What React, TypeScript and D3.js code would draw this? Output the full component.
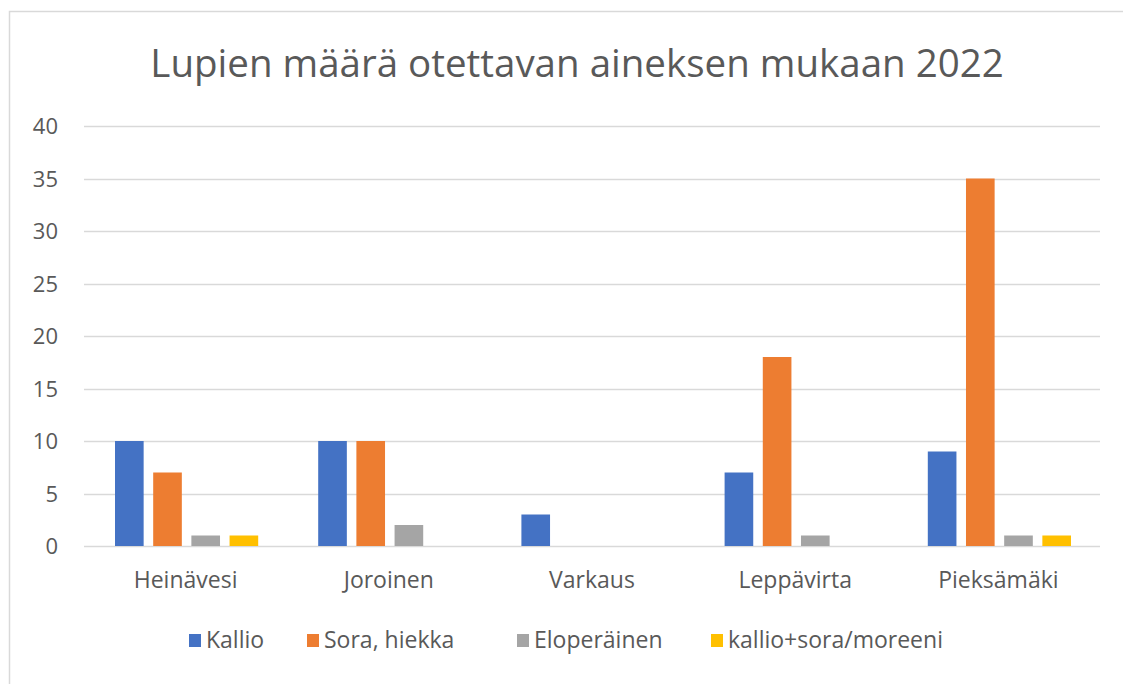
import { useEffect, useRef } from 'react';
import * as d3 from 'd3';

const categories = ['Heinävesi', 'Joroinen', 'Varkaus', 'Leppävirta', 'Pieksämäki'];
const seriesNames = ['Kallio', 'Sora, hiekka', 'Eloperäinen', 'kallio+sora/moreeni'];
const kallio = [10, 10, 3, 7, 9];
const soraHiekka = [7, 10, 0, 18, 35];
const eloperainen = [1, 2, 0, 1, 1];
const kallioSora = [1, 0, 0, 0, 1];
const yTicks = [0, 5, 10, 15, 20, 25, 30, 35, 40];
const COLORS = ['#4472C4', '#ED7D31', '#A5A5A5', '#FFC000'];

const W = 1123;
const H = 684;
const FONT = '"Open Sans", "Noto Sans", sans-serif';
const MARGIN = { top: 126, right: 23, bottom: 138, left: 84 };

export default function App() {
  const svgRef = useRef<SVGSVGElement>(null);

  useEffect(() => {
    if (!svgRef.current) return;
    const svg = d3.select(svgRef.current);
    svg.selectAll('*').remove();

    const innerWidth = W - MARGIN.left - MARGIN.right;
    const innerHeight = H - MARGIN.top - MARGIN.bottom;
    const series = [kallio, soraHiekka, eloperainen, kallioSora];

    // chart frame
    svg.append('rect')
      .attr('x', 9.5)
      .attr('y', 11.5)
      .attr('width', W + 10)
      .attr('height', H + 10)
      .attr('fill', '#fff')
      .attr('stroke', '#d9d9d9')
      .attr('stroke-width', 1.5);

    svg.append('text')
      .attr('x', 577)
      .attr('y', 77)
      .attr('text-anchor', 'middle')
      .style('font-family', FONT)
      .style('font-size', '38.5px')
      .style('fill', '#595959')
      .text('Lupien määrä otettavan aineksen mukaan 2022');

    const g = svg.append('g')
      .attr('transform', `translate(${MARGIN.left},${MARGIN.top})`);

    const x0 = d3.scaleBand().domain(categories).range([0, innerWidth]).padding(0);
    const x1 = d3.scaleBand()
      .domain(seriesNames)
      .range([31, x0.bandwidth() - 29])
      .paddingInner(0.25);
    const y = d3.scaleLinear().domain([0, 40]).range([innerHeight, 0]);

    // grid
    g.selectAll('.grid')
      .data(yTicks)
      .enter()
      .append('line')
      .attr('x1', 0)
      .attr('x2', innerWidth)
      .attr('y1', (d) => Math.round(y(d)) + 0.5)
      .attr('y2', (d) => Math.round(y(d)) + 0.5)
      .attr('stroke', '#d9d9d9')
      .attr('stroke-width', 1.5);

    // y tick labels
    g.selectAll('.ylab')
      .data(yTicks)
      .enter()
      .append('text')
      .attr('x', -26)
      .attr('y', (d) => y(d) + 8)
      .attr('text-anchor', 'end')
      .style('font-family', FONT)
      .style('font-size', '22px')
      .style('fill', '#595959')
      .text((d) => d);

    // bars
    series.forEach((vals, si) => {
      g.selectAll(`.bar-${si}`)
        .data(vals)
        .enter()
        .append('rect')
        .attr('x', (_, i) => (x0(categories[i]) ?? 0) + (x1(seriesNames[si]) ?? 0))
        .attr('y', (d) => y(d))
        .attr('width', x1.bandwidth())
        .attr('height', (d) => y(0) - y(d))
        .attr('fill', COLORS[si]);
    });

    // category labels
    g.selectAll('.xlab')
      .data(categories)
      .enter()
      .append('text')
      .attr('x', (d) => (x0(d) ?? 0) + x0.bandwidth() / 2)
      .attr('y', innerHeight + 42)
      .attr('text-anchor', 'middle')
      .style('font-family', FONT)
      .style('font-size', '23px')
      .style('fill', '#595959')
      .text((d) => d);

    // legend
    const legendX = [189, 307, 517, 711];
    const legend = svg.append('g');
    seriesNames.forEach((name, i) => {
      legend.append('rect')
        .attr('x', legendX[i])
        .attr('y', 634)
        .attr('width', 12)
        .attr('height', 13)
        .attr('fill', COLORS[i]);
      legend.append('text')
        .attr('x', legendX[i] + 17)
        .attr('y', 648)
        .style('font-family', FONT)
        .style('font-size', '23px')
        .style('fill', '#595959')
        .text(name);
    });
  }, []);

  return (
    <svg
      ref={svgRef}
      width={W}
      height={H}
      style={{ position: 'absolute', left: 0, top: 0, background: '#fff' }}
    />
  );
}
